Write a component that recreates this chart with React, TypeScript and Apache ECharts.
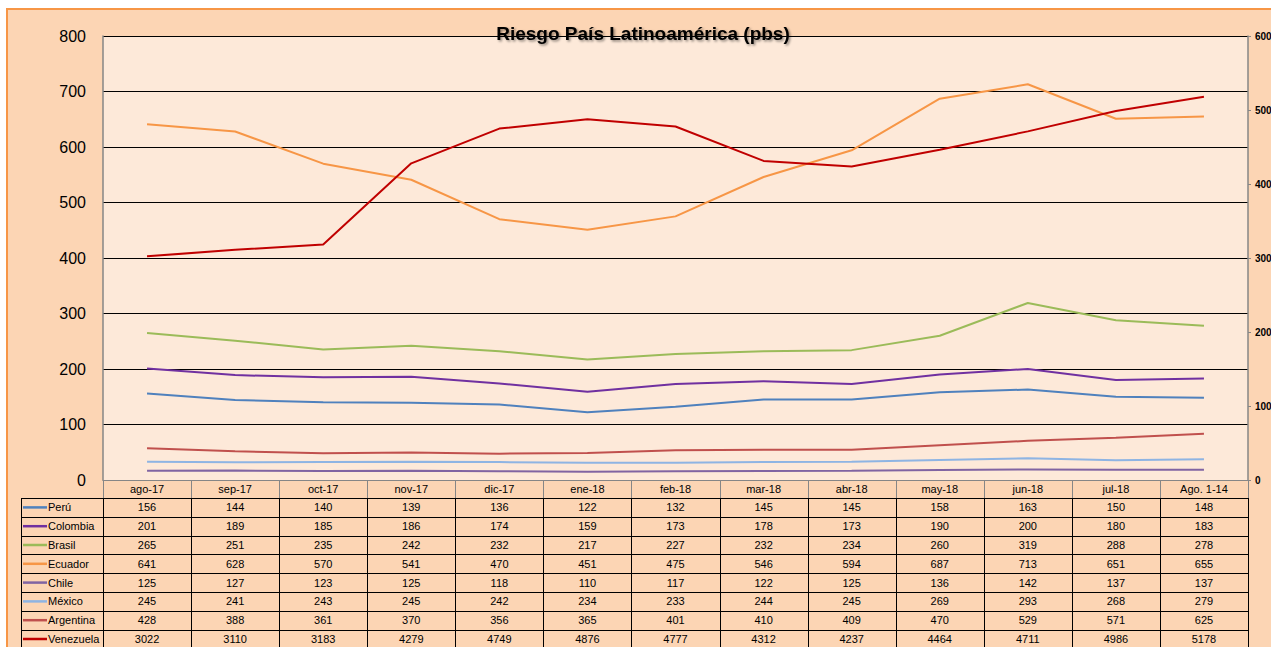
import React, { useEffect, useRef } from "react";
import * as echarts from "echarts";

const categories = ["ago-17", "sep-17", "oct-17", "nov-17", "dic-17", "ene-18", "feb-18", "mar-18", "abr-18", "may-18", "jun-18", "jul-18", "Ago. 1-14"];

const peru = [156, 144, 140, 139, 136, 122, 132, 145, 145, 158, 163, 150, 148];
const colombia = [201, 189, 185, 186, 174, 159, 173, 178, 173, 190, 200, 180, 183];
const brasil = [265, 251, 235, 242, 232, 217, 227, 232, 234, 260, 319, 288, 278];
const ecuador = [641, 628, 570, 541, 470, 451, 475, 546, 594, 687, 713, 651, 655];
const chile = [125, 127, 123, 125, 118, 110, 117, 122, 125, 136, 142, 137, 137];
const mexico = [245, 241, 243, 245, 242, 234, 233, 244, 245, 269, 293, 268, 279];
const argentina = [428, 388, 361, 370, 356, 365, 401, 410, 409, 470, 529, 571, 625];
const venezuela = [3022, 3110, 3183, 4279, 4749, 4876, 4777, 4312, 4237, 4464, 4711, 4986, 5178];

const seriesNames = ["Perú", "Colombia", "Brasil", "Ecuador", "Chile", "México", "Argentina", "Venezuela"];
const seriesData = [peru, colombia, brasil, ecuador, chile, mexico, argentina, venezuela];
// 0 = left axis (0-800), 1 = right axis (0-6000)
const seriesAxis = [0, 0, 0, 0, 1, 1, 1, 1];
const seriesColors = ["#4F81BD", "#7030A0", "#9BBB59", "#F79646", "#8064A2", "#8EB4E3", "#C0504D", "#C00000"];

const leftTicks = { min: 0, max: 800, interval: 100 };
const rightTicks = { min: 0, max: 6000, interval: 1000 };

const W = 1271;
const H = 647;
const GL = 103;
const GR = 1248;
const GT = 36;
const GB = 480;
const HEADER_H = 18;
const ROW_H = 18.8;
const TABLE_LEFT = 21;
const FONT = "'Liberation Sans', Arial, sans-serif";

export default function App() {
  const ref = useRef<HTMLDivElement>(null);

  useEffect(() => {
    if (!ref.current) return;
    const chart = echarts.init(ref.current, undefined, { renderer: "svg" });
    const catW = (GR - GL) / categories.length;
    const rowTop0 = GB + HEADER_H;

    const graphics: any[] = [];
    // outer chart area
    graphics.push({
      type: "rect",
      z: -100,
      silent: true,
      shape: { x: 7, y: 9, width: 1320, height: 720 },
      style: { fill: "#FCD5B4", stroke: "#F79646", lineWidth: 2 },
    });
    // title
    graphics.push({
      type: "text",
      z: 50,
      x: 643,
      y: 33,
      style: {
        text: "Riesgo País Latinoamérica (pbs)",
        fontFamily: FONT,
        fontWeight: "bold",
        fontSize: 19,
        fill: "#000",
        align: "center",
        verticalAlign: "middle",
        textShadowColor: "rgba(0,0,0,0.45)",
        textShadowBlur: 2,
        textShadowOffsetX: 1.5,
        textShadowOffsetY: 1.5,
      },
    });
    // header vertical lines (gray)
    for (let k = 0; k <= categories.length; k++) {
      const x = Math.round(GL + k * catW) + 0.5;
      graphics.push({
        type: "line",
        z: 40,
        silent: true,
        shape: { x1: x, y1: GB, x2: x, y2: rowTop0 },
        style: { stroke: "#868686", lineWidth: 1 },
      });
    }
    // data row horizontal lines
    for (let i = 0; i <= seriesNames.length; i++) {
      const y = Math.round(rowTop0 + i * ROW_H) + 0.5;
      graphics.push({
        type: "line",
        z: 40,
        silent: true,
        shape: { x1: TABLE_LEFT, y1: y, x2: GR, y2: y },
        style: { stroke: "#000", lineWidth: 1 },
      });
    }
    // data row vertical lines
    const vxs = [TABLE_LEFT];
    for (let k = 0; k <= categories.length; k++) vxs.push(GL + k * catW);
    vxs.forEach((xx) => {
      const x = Math.round(xx) + 0.5;
      graphics.push({
        type: "line",
        z: 40,
        silent: true,
        shape: { x1: x, y1: rowTop0, x2: x, y2: H + 20 },
        style: { stroke: "#000", lineWidth: 1 },
      });
    });
    // legend keys + names
    seriesNames.forEach((name, i) => {
      const cy = rowTop0 + i * ROW_H + ROW_H / 2;
      graphics.push({
        type: "line",
        z: 41,
        silent: true,
        shape: { x1: 23, y1: cy, x2: 47, y2: cy },
        style: { stroke: seriesColors[i], lineWidth: 2.5 },
      });
      graphics.push({
        type: "text",
        z: 41,
        x: 48,
        y: cy,
        style: {
          text: name,
          fontFamily: FONT,
          fontSize: 11,
          fill: "#000",
          align: "left",
          verticalAlign: "middle",
        },
      });
    });

    // extra x axes used as table value rows
    const rowAxes = seriesData.map((vals, i) => ({
      type: "category",
      gridIndex: 0,
      position: "bottom",
      data: categories,
      boundaryGap: true,
      axisLine: { show: false },
      axisTick: { show: false },
      splitLine: { show: false },
      axisLabel: {
        interval: 0,
        margin: HEADER_H + ROW_H / 2 + i * ROW_H,
        verticalAlign: "middle",
        fontFamily: FONT,
        fontSize: 11,
        color: "#000",
        formatter: (_v: string, idx: number) => String(vals[idx]),
      },
    }));

    const option: any = {
      animation: false,
      backgroundColor: "#FFFFFF",
      grid: {
        left: GL,
        right: W - GR,
        top: GT,
        bottom: H - GB,
        show: true,
        backgroundColor: "#FDE9D9",
        borderWidth: 0,
        containLabel: false,
        outerBoundsMode: "none",
      },
      xAxis: [
        {
          type: "category",
          position: "bottom",
          data: categories,
          boundaryGap: true,
          axisLine: { show: true, lineStyle: { color: "#868686", width: 1 } },
          axisTick: { show: false },
          splitLine: { show: false },
          axisLabel: {
            interval: 0,
            margin: HEADER_H / 2,
            verticalAlign: "middle",
            fontFamily: FONT,
            fontSize: 11,
            color: "#000",
          },
        },
        ...rowAxes,
      ],
      yAxis: [
        {
          type: "value",
          position: "left",
          min: leftTicks.min,
          max: leftTicks.max,
          interval: leftTicks.interval,
          axisLine: { show: true, lineStyle: { color: "#868686", width: 1.5 } },
          axisTick: { show: false },
          splitLine: { show: true, lineStyle: { color: "#000", width: 1 } },
          axisLabel: {
            margin: 17,
            fontFamily: FONT,
            fontSize: 16,
            color: "#000",
          },
        },
        {
          type: "value",
          position: "right",
          min: rightTicks.min,
          max: rightTicks.max,
          interval: rightTicks.interval,
          axisLine: { show: true, lineStyle: { color: "#868686", width: 1.5 } },
          axisTick: { show: true, inside: false, length: 3, lineStyle: { color: "#868686" } },
          splitLine: { show: false },
          axisLabel: {
            margin: 7,
            fontFamily: FONT,
            fontSize: 10,
            fontWeight: "bold",
            color: "#000",
            formatter: (v: number) => String(v),
          },
        },
      ],
      series: seriesNames.map((name, i) => ({
        name,
        type: "line",
        xAxisIndex: 0,
        yAxisIndex: seriesAxis[i],
        data: seriesData[i],
        symbol: "none",
        smooth: false,
        color: seriesColors[i],
        lineStyle: { color: seriesColors[i], width: 2 },
        z: 3,
      })),
      graphic: graphics,
    };
    chart.setOption(option);
    return () => chart.dispose();
  }, []);

  return (
    <div style={{ position: "fixed", left: 0, top: 0, width: W, height: H, overflow: "hidden", background: "#fff" }}>
      <div ref={ref} style={{ width: W, height: H }} />
    </div>
  );
}
